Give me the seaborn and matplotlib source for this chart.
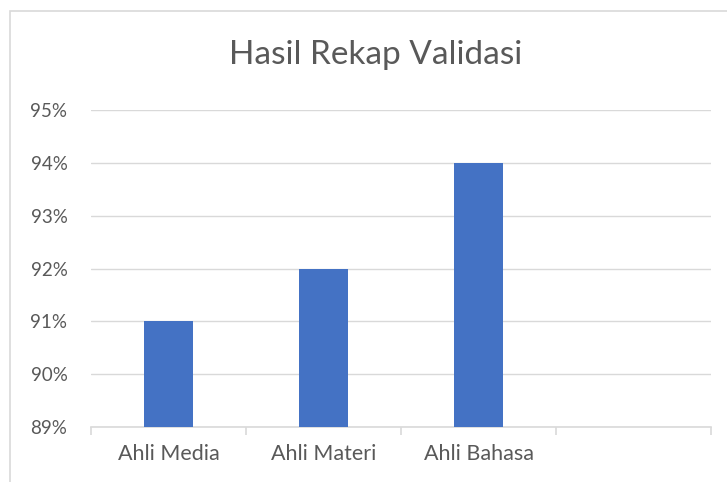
import numpy as np
import pandas as pd
import matplotlib
matplotlib.use("Agg")
import matplotlib.pyplot as plt
from matplotlib.patches import Rectangle
from matplotlib.ticker import FixedLocator, PercentFormatter
import seaborn as sns

# data
categories = ["Ahli Media", "Ahli Materi", "Ahli Bahasa"]
values = [0.91, 0.92, 0.94]
y_ticks = [0.89, 0.90, 0.91, 0.92, 0.93, 0.94, 0.95]

df = pd.DataFrame({"kategori": categories, "nilai": values})

sns.set_theme(style="white")
plt.rcParams['font.family'] = ['Lato', 'DejaVu Sans']

grey_text = "#595959"
grey_line = "#d9d9d9"

fig = plt.figure(figsize=(7.27, 4.82), dpi=100)
ax = fig.add_axes([91/727, 1 - 427/482, 620/727, 317/482])

# chart border (excel style)
fig.patches.append(Rectangle((10/727, -0.1), 1.0, 1 - 11/482 + 0.1,
                             transform=fig.transFigure, fill=False,
                             edgecolor=grey_line, linewidth=1.2))

sns.barplot(data=df, x="kategori", y="nilai", color="#4472C4",
            width=0.31, saturation=1, linewidth=0, ax=ax, zorder=3)

ax.set_xlim(-0.5, 3.5)
ax.set_ylim(0.89, 0.95)
ax.yaxis.set_major_locator(FixedLocator(y_ticks))
ax.yaxis.set_major_formatter(PercentFormatter(1.0, decimals=0))
ax.grid(axis="y", color=grey_line, linewidth=1, zorder=0)

for s in ["left", "right", "top"]:
    ax.spines[s].set_visible(False)
ax.spines["bottom"].set_color(grey_line)
ax.spines["bottom"].set_linewidth(1.2)

ax.set_xticks(range(len(categories)))
ax.set_xticklabels(categories)
ax.xaxis.set_minor_locator(FixedLocator(np.arange(-0.5, 4.0, 1.0)))
ax.tick_params(axis="x", which="major", length=0, pad=12, labelsize=15.5, labelcolor=grey_text)
ax.tick_params(axis="x", which="minor", length=6, width=1.2, color=grey_line, bottom=True)
ax.tick_params(axis="y", length=0, pad=17, labelsize=13.5, labelcolor=grey_text)

ax.set_xlabel("")
ax.set_ylabel("")

fig.text(376/727, 1 - 55/482, "Hasil Rekap Validasi", ha="center", va="center",
         fontsize=24, color=grey_text)

fig.savefig("out.png", dpi=100)
